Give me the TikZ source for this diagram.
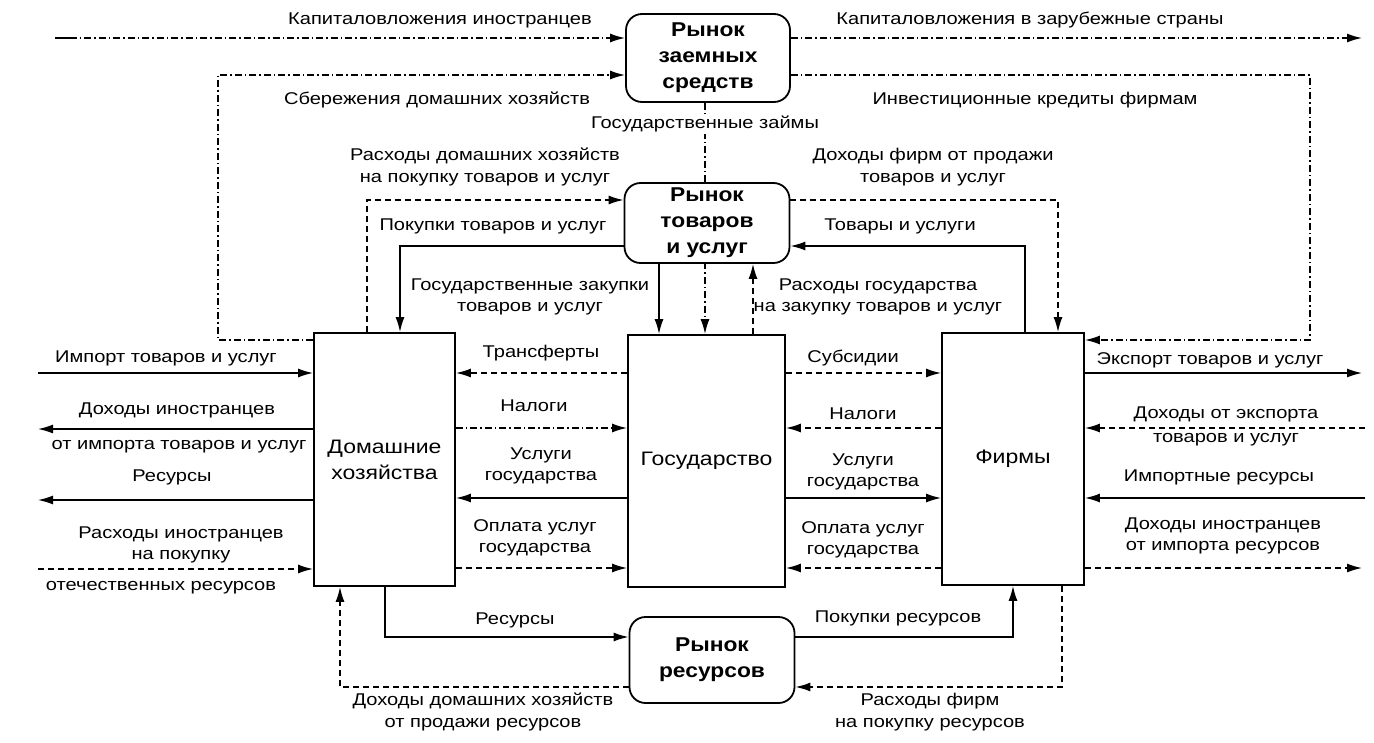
\documentclass[tikz,border=0pt]{standalone}
\usepackage{fontspec}
\setmainfont{Liberation Sans}[FakeStretch=1.18]
\newfontfamily\mktfont{Liberation Sans}[FakeStretch=1.14]
\usetikzlibrary{arrows.meta}
\begin{document}
\begin{tikzpicture}[x=1pt,y=-1pt,
  font=\fontsize{17}{21.5}\selectfont,
  >={Latex[length=15pt,width=9pt]},
  ln/.style={line width=1.5pt},
  sol/.style={ln,->},
  dsh/.style={ln,->,dash pattern=on 6pt off 4pt},
  ddot/.style={ln,->,dash pattern=on 7pt off 3pt on 1.5pt off 3pt},
  blk/.style={draw,line width=1.8pt,inner sep=0pt,align=center,font=\fontsize{19.5}{26}\selectfont},
  mkt/.style={draw,fill=white,line width=1.8pt,rounded corners=16pt,inner sep=0pt,align=center,font=\mktfont\bfseries\fontsize{20}{26}\selectfont},
  lbl/.style={align=center,inner sep=0pt}
]
\useasboundingbox (0,0) rectangle (1374,742);

% main blocks
\node[mkt,minimum width=164pt,minimum height=88pt] (loan) at (708,58) {Рынок\\заемных\\средств};
\node[blk,minimum width=141pt,minimum height=253pt] (hh) at (384.5,459.5) {Домашние\\хозяйства};
\node[blk,minimum width=157pt,minimum height=252pt] (gov) at (706.5,461) {Государство};
\node[blk,minimum width=142pt,minimum height=252pt] (firms) at (1013,459) {Фирмы};
\node[mkt,minimum width=165pt,minimum height=86pt] (res) at (712,660) {Рынок\\ресурсов};

% government loans (behind goods market)
\draw[ddot] (loan.south -| 705,0) -- (gov.north -| 705,0);
\node[mkt,minimum width=165pt,minimum height=80pt] (goods) at (707,223) {Рынок\\товаров\\и услуг};
\node[lbl,fill=white,inner sep=2pt] (tGL) at (705,124) {Государственные займы};

% free ends
\coordinate (capL) at (55,38);
\coordinate (capR) at (1362,38);
\coordinate (impL) at (38,373);
\coordinate (incL) at (38,429);
\coordinate (resL) at (38,500);
\coordinate (forL) at (38,569);
\coordinate (expR) at (1362,373);
\coordinate (expIncR) at (1365,428);
\coordinate (impRR) at (1365,498);
\coordinate (forR) at (1362,568);

% loan market flows
\draw[ln] (capL) -- ++(20,0);
\draw[ddot] (capL) -- (loan.west |- capL);
\draw[ddot] (loan.east |- capR) -- (capR);
\draw[ddot] (hh.west |- 0,340) -- (218,340) |- (loan.west |- 0,75);
\draw[ddot] (loan.east |- 0,75) -- (1310,75) |- (firms.east |- 0,340);

% goods market flows
\draw[dsh] (hh.north -| 367,0) |- (goods.west |- 0,200);
\draw[sol] (goods.west |- 0,246) -| (hh.north -| 400,0);
\draw[sol] (firms.north -| 1025,0) |- (goods.east |- 0,246);
\draw[dsh] (goods.east |- 0,200) -| (firms.north -| 1058,0);
\draw[sol] (goods.south -| 659,0) -- (gov.north -| 659,0);
\draw[dsh] (gov.north -| 753,0) -- (goods.south -| 753,0);

% household <-> government
\draw[dsh] (gov.west |- 0,373) -- (hh.east |- 0,373);
\draw[ddot] (hh.east |- 0,428) -- (gov.west |- 0,428);
\draw[sol] (gov.west |- 0,498) -- (hh.east |- 0,498);
\draw[dsh] (hh.east |- 0,568) -- (gov.west |- 0,568);

% government <-> firms
\draw[dsh] (gov.east |- 0,373) -- (firms.west |- 0,373);
\draw[dsh] (firms.west |- 0,428) -- (gov.east |- 0,428);
\draw[sol] (gov.east |- 0,498) -- (firms.west |- 0,498);
\draw[dsh] (firms.west |- 0,568) -- (gov.east |- 0,568);

% foreign sector, left
\draw[sol] (impL) -- (hh.west |- impL);
\draw[sol] (hh.west |- incL) -- (incL);
\draw[sol] (hh.west |- resL) -- (resL);
\draw[dsh] (forL) -- (hh.west |- forL);

% foreign sector, right
\draw[sol] (firms.east |- expR) -- (expR);
\draw[dsh] (expIncR) -- (firms.east |- expIncR);
\draw[sol] (impRR) -- (firms.east |- impRR);
\draw[dsh] (firms.east |- forR) -- (forR);

% resource market flows
\draw[sol] (hh.south -| 385,0) |- (res.west |- 0,637);
\draw[sol] (res.east |- 0,637) -| (firms.south -| 1013,0);
\draw[dsh] (res.west |- 0,687) -| (hh.south -| 340,0);
\draw[dsh] (firms.south -| 1062,0) |- (res.east |- 0,687);

% labels
\node[lbl] (t1) at (440,20) {Капиталовложения иностранцев};
\node[lbl] (t2) at (1030,20) {Капиталовложения в зарубежные страны};
\node[lbl] (t3) at (437,100) {Сбережения домашних хозяйств};
\node[lbl] (t4) at (1035,100) {Инвестиционные кредиты фирмам};
\node[lbl] (t5) at (485,167) {Расходы домашних хозяйств\\на покупку товаров и услуг};
\node[lbl] (t6) at (933,167) {Доходы фирм от продажи\\товаров и услуг};
\node[lbl] (t7) at (493,226) {Покупки товаров и услуг};
\node[lbl] (t8) at (900,226) {Товары и услуги};
\node[lbl] (t9) at (530,297) {Государственные закупки\\товаров и услуг};
\node[lbl] (t10) at (878,297) {Расходы государства\\на закупку товаров и услуг};
\node[lbl] (t11) at (541,353) {Трансферты};
\node[lbl] (t12) at (534,406) {Налоги};
\node[lbl] (t13) at (541,466) {Услуги\\государства};
\node[lbl] (t14) at (535,538) {Оплата услуг\\государства};
\node[lbl] (t15) at (853,358) {Субсидии};
\node[lbl] (t16) at (863,414) {Налоги};
\node[lbl] (t17) at (863,472) {Услуги\\государства};
\node[lbl] (t18) at (863,540) {Оплата услуг\\государства};
\node[lbl] (t19) at (166,358) {Импорт товаров и услуг};
\node[lbl] (t20) at (177,410) {Доходы иностранцев};
\node[lbl] (t21) at (179,447) {от импорта товаров и услуг};
\node[lbl] (t22) at (172,477) {Ресурсы};
\node[lbl] (t23) at (181,545) {Расходы иностранцев\\на покупку};
\node[lbl] (t24) at (161,588) {отечественных ресурсов};
\node[lbl] (t25) at (1210,360) {Экспорт товаров и услуг};
\node[lbl] (t26) at (1226,414) {Доходы от экспорта};
\node[lbl] (t27) at (1226,440) {товаров и услуг};
\node[lbl] (t28) at (1219,477) {Импортные ресурсы};
\node[lbl] (t29) at (1223,536) {Доходы иностранцев\\от импорта ресурсов};
\node[lbl] (t30) at (515,620) {Ресурсы};
\node[lbl] (t31) at (898,618) {Покупки ресурсов};
\node[lbl] (t32) at (483,712) {Доходы домашних хозяйств\\от продажи ресурсов};
\node[lbl] (t33) at (930,712) {Расходы фирм\\на покупку ресурсов};
\end{tikzpicture}
\end{document}
